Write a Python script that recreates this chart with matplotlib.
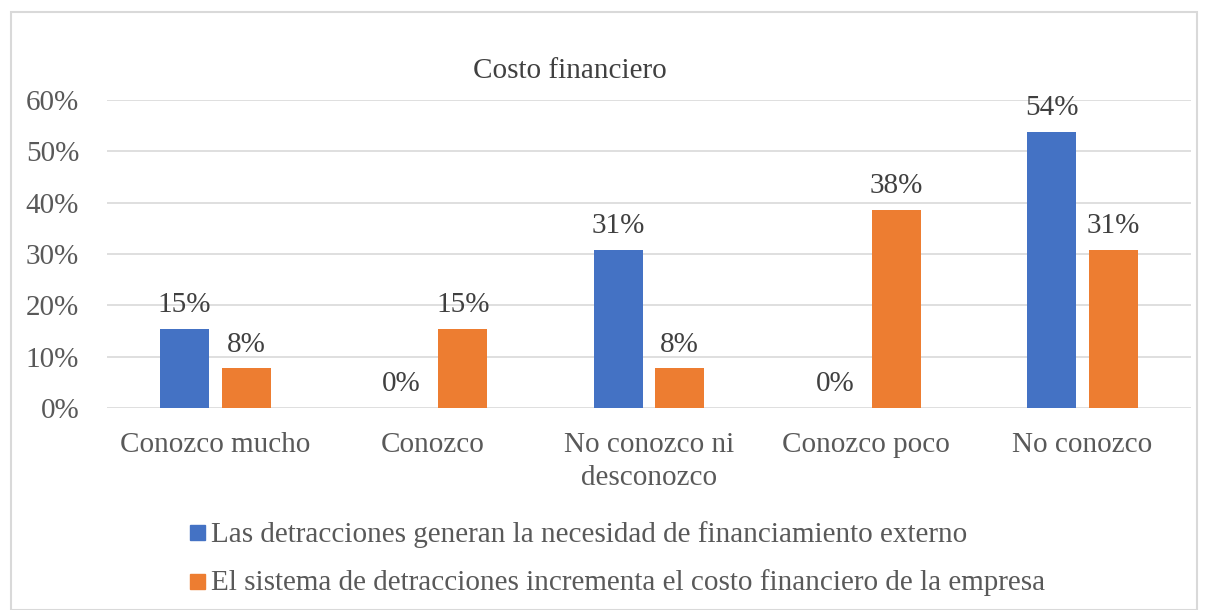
import matplotlib
matplotlib.use("Agg")
import matplotlib.pyplot as plt
from matplotlib.patches import Rectangle
import numpy as np

categories = ["Conozco mucho", "Conozco", "No conozco ni\ndesconozco", "Conozco poco", "No conozco"]
series_names = ["Las detracciones generan la necesidad de financiamiento externo",
                "El sistema de detracciones incrementa el costo financiero de la empresa"]
blue_vals = [15.4, 0.0, 30.8, 0.0, 53.8]
orange_vals = [7.7, 15.4, 7.7, 38.5, 30.8]
yticks = [0, 10, 20, 30, 40, 50, 60]
title = "Costo financiero"

plt.rcParams['font.family'] = ['Liberation Serif', 'DejaVu Serif']

fig = plt.figure(figsize=(12.08, 6.10), dpi=100)
W, H = 1208, 610
ax = fig.add_axes([107 / W, 1 - 408 / H, (1191 - 107) / W, (408 - 100) / H])

FS = 21
x = np.arange(len(categories))
bw = 0.226
off = 0.142
b1 = ax.bar(x - off, blue_vals, bw, color="#4472C4", zorder=3)
b2 = ax.bar(x + off, orange_vals, bw, color="#ED7D31", zorder=3)

for bars, vals in ((b1, blue_vals), (b2, orange_vals)):
    for r, v in zip(bars, vals):
        ax.text(r.get_x() + r.get_width() / 2, v + 3.3, f"{round(v):d}%",
                ha="center", va="baseline", fontsize=FS, color="#404040")

ax.set_xlim(-0.5, len(categories) - 0.5)
ax.set_ylim(0, 60)
ax.set_yticks(yticks)
ax.set_yticklabels([f"{t}%" for t in yticks])
ax.set_xticks(x)
ax.set_xticklabels(categories, linespacing=1.38)
ax.tick_params(axis="both", length=0, labelsize=FS, colors="#595959")
ax.tick_params(axis="y", pad=20)
ax.tick_params(axis="x", pad=17)
ax.yaxis.grid(True, color="#D9D9D9", linewidth=1.2, zorder=0)
for s in ax.spines.values():
    s.set_visible(False)

fig.text(570 / W, 1 - 71 / H, title, ha="center", va="center", fontsize=FS, color="#404040")

# legend
for i, (name, col) in enumerate(zip(series_names, ["#4472C4", "#ED7D31"])):
    yc = [532.5, 581][i]
    fig.patches.append(Rectangle((190 / W, 1 - (yc + 7.5) / H), 15 / W, 15 / H,
                                 transform=fig.transFigure, color=col, figure=fig))
    fig.text(211 / W, 1 - (yc + 2) / H, name, ha="left", va="center", fontsize=FS, color="#595959")

# border
fig.patches.append(Rectangle((11 / W, 0), 1 - 22 / W, 1 - 12 / H, transform=fig.transFigure,
                             fill=False, edgecolor="#D9D9D9", linewidth=1.5, figure=fig))

fig.savefig("out.png", dpi=100)
